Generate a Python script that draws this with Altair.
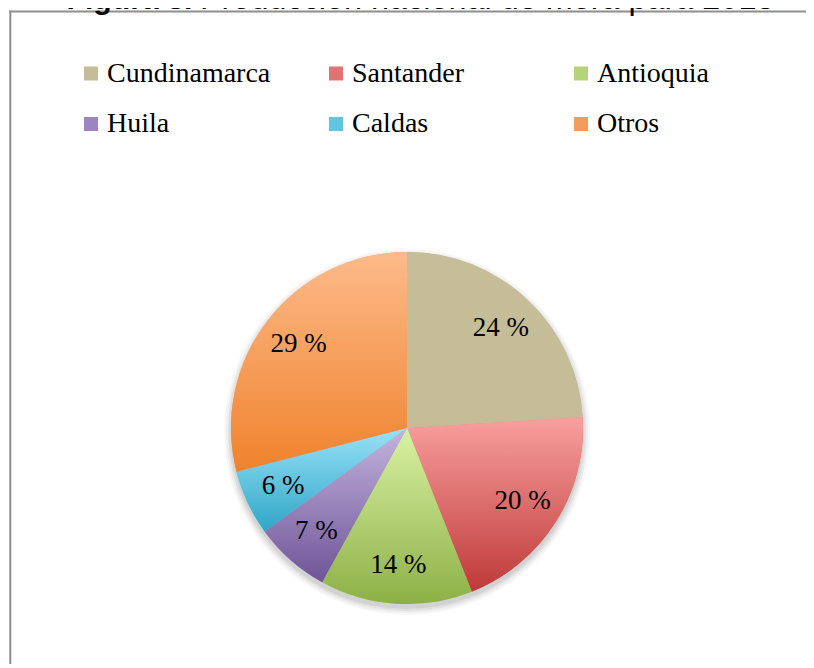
import altair as alt
import pandas as pd
import numpy as np

categories = ["Cundinamarca", "Santander", "Antioquia", "Huila", "Caldas", "Otros"]
values = [24, 20, 14, 7, 6, 29]
flat_colors = ["#C4BD97", "#E07472", "#B4D37A", "#9D85C1", "#63C4E2", "#F69C5B"]
grad_top = ["#C5BE98", "#F8A09E", "#D8F2A4", "#C4B4DE", "#9AE1F8", "#FDBA8A"]
grad_bottom = ["#C3BC96", "#BE3A39", "#8DB046", "#6E5497", "#2EA6C6", "#F0822C"]
label_texts = [f"{v} %" for v in values]
title_bold = "Figura 3."
title_rest = "Producción nacional de mora para 2013"

end = np.cumsum(values)
start = end - np.array(values)
df = pd.DataFrame({
    "category": categories,
    "value": values,
    "start": start,
    "end": end,
    "mid": (start + end) / 2,
    "label": label_texts,
})
one = pd.DataFrame({"bold": [title_bold], "rest": [title_rest]})

CX, CY, R = 399, 420, 176
theta = alt.Theta("start:Q", scale=alt.Scale(domain=[0, 100]))
theta2 = alt.Theta2("end:Q")
cx = alt.value(CX)
cy = alt.value(CY)

layers = []
# soft shadow
for r, op in [(183, 0.03), (181, 0.04), (179, 0.05), (177, 0.06)]:
    layers.append(
        alt.Chart(one).mark_arc(theta=0, theta2=6.2832, radius=r, yOffset=4,
                                color="#000000", opacity=op)
        .encode(x=cx, y=cy)
    )

# flat base (provides legend)
layers.append(
    alt.Chart(df).mark_arc(radius=R).encode(
        theta=theta, theta2=theta2, x=cx, y=cy,
        color=alt.Color(
            "category:N",
            scale=alt.Scale(domain=categories, range=flat_colors),
            sort=categories,
            legend=alt.Legend(
                orient="none", legendX=69, legendY=51.5, columns=3,
                direction="horizontal", title=None, symbolType="square",
                symbolSize=196, symbolStrokeWidth=0, labelFont="Liberation Serif",
                labelFontSize=28, labelColor="black", labelLimit=400,
                labelOffset=2, columnPadding=51, rowPadding=22.5,
                gridAlign="all", padding=0, symbolOpacity=1,
            ),
        ),
    )
)

# gradient slices
for cat, top, bot in zip(categories, grad_top, grad_bottom):
    grad = alt.LinearGradient(
        gradient="linear",
        stops=[alt.GradientStop(color=top, offset=0), alt.GradientStop(color=bot, offset=1)],
        x1=0, x2=0, y1=0, y2=1,
    )
    layers.append(
        alt.Chart(df).transform_filter(alt.datum.category == cat)
        .mark_arc(radius=R, fill=grad)
        .encode(theta=theta, theta2=theta2, x=cx, y=cy)
    )

# labels
layers.append(
    alt.Chart(df).mark_text(radius=137, font="Liberation Serif", fontSize=27,
                            color="black", align="center", baseline="middle")
    .encode(theta=alt.Theta("mid:Q", scale=alt.Scale(domain=[0, 100])),
            x=cx, y=cy, text="label:N")
)

# frame
layers.append(
    alt.Chart(one).mark_rule(color="#8E8E8E", strokeWidth=2)
    .encode(x=alt.value(1.3), x2=alt.value(830), y=alt.value(3.5))
)
layers.append(
    alt.Chart(one).mark_rule(color="#8E8E8E", strokeWidth=2)
    .encode(x=alt.value(2.3), y=alt.value(2.5), y2=alt.value(680))
)

# title (clipped at top as in the reference)
layers.append(
    alt.Chart(one).mark_text(align="left", baseline="alphabetic", font="Liberation Sans",
                             fontSize=30.2, fontWeight="bold", color="black")
    .encode(x=alt.value(58.5), y=alt.value(0.5), text="bold:N")
)
layers.append(
    alt.Chart(one).mark_text(align="left", baseline="alphabetic", font="Liberation Sans",
                             fontSize=32.4, color="black")
    .encode(x=alt.value(192), y=alt.value(0.5), text="rest:N")
)

chart = alt.layer(*layers).properties(
    width=798, height=656,
    autosize=alt.AutoSizeParams(type="none"),
    padding=0,
).configure_view(stroke=None)

chart.save("out.html", embed_options={"renderer": "svg", "actions": False})
